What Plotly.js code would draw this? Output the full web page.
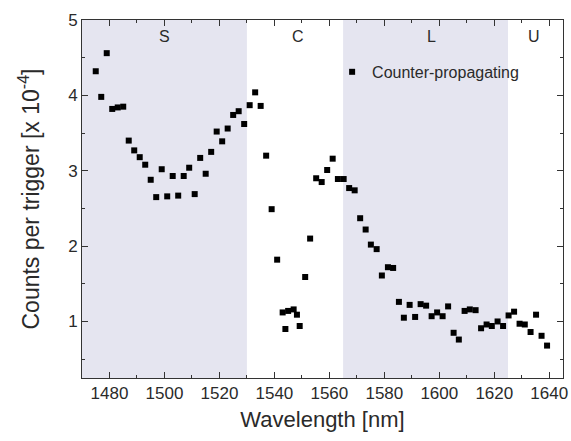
<!DOCTYPE html>
<html>
<head>
<meta charset="utf-8">
<script src="https://cdn.plot.ly/plotly-3.0.1.min.js"></script>
<style>html,body{margin:0;padding:0;background:#fff;}#chart{width:571px;height:441px;}</style>
</head>
<body>
<div id="chart"></div>
<script>
const wavelength = [
  1475, 1477, 1479, 1481, 1483, 1485, 1487, 1489, 1491, 1493,
  1495, 1497, 1499, 1501, 1503, 1505, 1507, 1509, 1511, 1513,
  1515, 1517, 1519, 1521, 1523, 1525, 1527, 1529, 1531, 1533,
  1535, 1537, 1539, 1541, 1543, 1544, 1545, 1547, 1548.2, 1549.2,
  1551.2, 1553, 1555.2, 1557.2, 1559.2, 1561.2, 1563.1, 1565.2, 1567.2, 1569.2,
  1571.2, 1573.2, 1575.1, 1577.2, 1579.1, 1581.3, 1583.2, 1585.3, 1587.1, 1589.2,
  1591.2, 1593.2, 1595.2, 1597.2, 1599.2, 1601.2, 1603.2, 1605.2, 1607.1, 1609.2,
  1611.1, 1613.2, 1615.2, 1617.2, 1619.1, 1621.2, 1623.2, 1625.2, 1627.2, 1629.2,
  1631.1, 1633.2, 1635.2, 1637.2, 1639.2
];
const counts = [
  4.32, 3.98, 4.56, 3.82, 3.84, 3.85, 3.40, 3.27, 3.18, 3.08,
  2.88, 2.65, 3.02, 2.66, 2.93, 2.67, 2.93, 3.04, 2.69, 3.17,
  2.96, 3.25, 3.52, 3.39, 3.56, 3.74, 3.79, 3.62, 3.87, 4.04,
  3.86, 3.20, 2.49, 1.82, 1.12, 0.90, 1.14, 1.16, 1.09, 0.94,
  1.59, 2.10, 2.90, 2.85, 3.01, 3.16, 2.89, 2.89, 2.77, 2.74,
  2.37, 2.22, 2.02, 1.96, 1.61, 1.72, 1.71, 1.26, 1.05, 1.22,
  1.06, 1.23, 1.21, 1.07, 1.12, 1.07, 1.20, 0.85, 0.76, 1.14,
  1.16, 1.15, 0.91, 0.96, 0.94, 1.00, 0.94, 1.08, 1.13, 0.97,
  0.96, 0.86, 1.09, 0.81, 0.68
];
const bandNames = ["S", "C", "L", "U"];
const bandStart = [1470, 1530, 1565, 1625];
const bandEnd = [1530, 1565, 1625, 1645];
const bandShaded = [true, false, true, false];
const bandLabelX = [1500, 1548.5, 1597, 1634.5];
const xTicks = [1480, 1500, 1520, 1540, 1560, 1580, 1600, 1620, 1640];
const yTicks = [1, 2, 3, 4, 5];

const font = "Liberation Sans, Arial, sans-serif";
const textColor = "#2a2a2a";
const shapes = [];
const annotations = [];
bandNames.forEach((name, i) => {
  if (bandShaded[i]) {
    shapes.push({type: "rect", xref: "x", yref: "paper", x0: bandStart[i], x1: bandEnd[i], y0: 0, y1: 1,
      fillcolor: "#e5e5f0", line: {width: 0}, layer: "below"});
  }
  annotations.push({x: bandLabelX[i], xref: "x", y: 4.78, yref: "y", text: name, showarrow: false,
    font: {family: font, size: 16, color: textColor}});
});

const trace = {
  x: wavelength, y: counts, type: "scatter", mode: "markers",
  name: "Counter-propagating",
  marker: {symbol: "square", size: 6, color: "#000"}
};

const axisCommon = {
  showgrid: false, zeroline: false, showline: true, linecolor: "#333", linewidth: 1,
  mirror: "ticks", ticks: "inside", ticklen: 6, tickcolor: "#333", tickwidth: 1,
  tickfont: {family: font, size: 17, color: textColor}
};

const layout = {
  width: 571, height: 441,
  margin: {l: 82, r: 8, t: 20, b: 63},
  paper_bgcolor: "#fff", plot_bgcolor: "#fff",
  showlegend: true,
  legend: {x: 0.52, y: 0.855, xanchor: "left", yanchor: "middle", bgcolor: "rgba(0,0,0,0)",
    font: {family: font, size: 16, color: textColor}},
  xaxis: Object.assign({}, axisCommon, {
    range: [1470, 1645], tickvals: xTicks, ticktext: xTicks.map(String),
    minor: {dtick: 10, tick0: 1470, ticks: "inside", ticklen: 3, tickcolor: "#333"},
    title: {text: "Wavelength [nm]", font: {family: font, size: 22, color: textColor}, standoff: 9}
  }),
  yaxis: Object.assign({}, axisCommon, {
    range: [0.25, 5], tickvals: yTicks, ticktext: yTicks.map(String),
    minor: {dtick: 0.5, tick0: 0, ticks: "inside", ticklen: 3, tickcolor: "#333"},
    title: {text: "Counts per trigger [x 10<sup>-4</sup>]", font: {family: font, size: 23, color: textColor}, standoff: 22}
  }),
  shapes: shapes,
  annotations: annotations
};

Plotly.newPlot("chart", [trace], layout, {staticPlot: true, displayModeBar: false});
</script>
</body>
</html>
